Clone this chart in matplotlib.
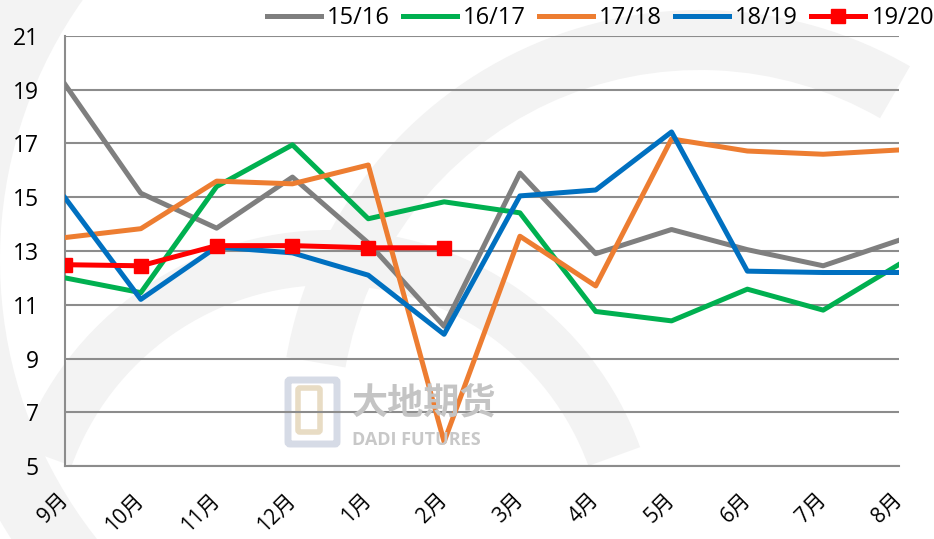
import matplotlib
matplotlib.use("Agg")
import matplotlib.pyplot as plt
from matplotlib.patches import Wedge, FancyBboxPatch

plt.rcParams['font.family'] = ['Open Sans', 'Noto Sans CJK SC', 'DejaVu Sans']

months = ["9月", "10月", "11月", "12月", "1月", "2月", "3月", "4月", "5月", "6月", "7月", "8月"]
s1516 = [19.2, 15.15, 13.85, 15.75, 13.3, 10.2, 15.9, 12.9, 13.8, 13.05, 12.45, 13.4]
s1617 = [12.0, 11.45, 15.4, 16.95, 14.2, 14.83, 14.42, 10.75, 10.4, 11.58, 10.8, 12.5]
s1718 = [13.5, 13.83, 15.6, 15.5, 16.2, 5.9, 13.55, 11.7, 17.17, 16.72, 16.6, 16.76]
s1819 = [14.98, 11.2, 13.15, 12.93, 12.1, 9.9, 15.05, 15.27, 17.43, 12.25, 12.2, 12.2]
s1920 = [12.49, 12.45, 13.2, 13.2, 13.12, 13.12]
yticks = [5, 7, 9, 11, 13, 15, 17, 19, 21]

fig = plt.figure(figsize=(9.34, 5.39), dpi=100)
ax = fig.add_axes([65/934, 1-466/539, (899-65)/934, (466-36)/539])

# faint watermark arcs
bg = fig.add_axes([0, 0, 1, 1], zorder=-1)
bg.set_xlim(0, 934); bg.set_ylim(539, 0); bg.axis('off')
for (cx, cy, r, w, t1, t2) in [(330, 560, 330, 55, 200, 340), (700, 430, 420, 60, 190, 300),
                                (450, 260, 520, 70, 120, 250)]:
    bg.add_patch(Wedge((cx, cy), r, t1, t2, width=w, color='#f3f3f3', lw=0))
bg.add_patch(FancyBboxPatch((290, 382), 45, 60, boxstyle='round,pad=2', fc='none',
                            ec='#d6dbe6', lw=5))
bg.add_patch(FancyBboxPatch((300, 390), 18, 40, boxstyle='round,pad=2', fc='none',
                            ec='#e8dcc4', lw=4))

ax.patch.set_alpha(0)
x = list(range(len(months)))
ax.plot(x, s1516, color='#7f7f7f', lw=3.6, label='15/16', zorder=3)
ax.plot(x, s1617, color='#00b050', lw=3.6, label='16/17', zorder=3)
ax.plot(x, s1718, color='#ed7d31', lw=3.6, label='17/18', zorder=3)
ax.plot(x, s1819, color='#0070c0', lw=3.6, label='18/19', zorder=3)
ax.plot(x[:len(s1920)], s1920, color='#ff0000', lw=3.6, marker='s', markersize=9.5,
        label='19/20', zorder=4)

ax.set_xlim(0, 11)
ax.set_ylim(5, 21)
ax.set_yticks(yticks)
ax.set_yticklabels([str(v) for v in yticks], fontsize=16.5)
ax.yaxis.grid(True, color='#8c8c8c', lw=1.5)
ax.set_axisbelow(True)
ax.tick_params(axis='y', length=0, pad=19)
ax.tick_params(axis='x', length=0, pad=22)
ax.set_xticks(x)
ax.set_xticklabels(months, rotation=45, ha='right', va='center', rotation_mode='anchor', fontsize=15)
for s in ['top', 'right']:
    ax.spines[s].set_visible(False)
ax.spines['left'].set_color('#8c8c8c'); ax.spines['left'].set_linewidth(1.5)
ax.spines['bottom'].set_color('#8c8c8c'); ax.spines['bottom'].set_linewidth(1.5)

# watermark logo text
fig.text(352/934, 1-403/539, "大地期货", fontsize=26, color='#c4c4c4',
         family=['Noto Sans CJK SC'], weight='bold', va='center', ha='left', zorder=0)
fig.text(352/934, 1-440/539, "DADI FUTURES", fontsize=13, color='#c8c8c8',
         weight='bold', va='center', ha='left', zorder=0)

leg = fig.legend(loc='center right', bbox_to_anchor=(1.0, 1-18/539), ncol=5, frameon=False,
                 fontsize=17, handlelength=2.3, columnspacing=0.55, handletextpad=0.25,
                 borderaxespad=0, borderpad=0)

fig.savefig("out.png", dpi=100)
